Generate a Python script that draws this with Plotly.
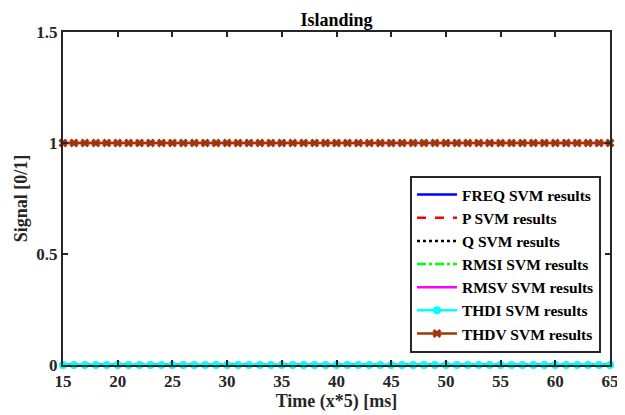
import plotly.graph_objects as go

time = list(range(15, 66))
n = len(time)
freq = [0] * n
p_vals = [0] * n
q_vals = [0] * n
rmsi = [0] * n
rmsv = [1] * n
thdi = [0] * n
thdv = [1] * n

x_ticks = [15, 20, 25, 30, 35, 40, 45, 50, 55, 60, 65]
y_ticks = [0, 0.5, 1, 1.5]
y_tick_text = ["0", "0.5", "1", "1.5"]

series = [
    ("FREQ SVM results", freq, dict(color="#0000ff", width=2.5, dash="solid"), None),
    ("P SVM results", p_vals, dict(color="#ff0000", width=2.5, dash="dash"), None),
    ("Q SVM results", q_vals, dict(color="#000000", width=2.5, dash="dot"), None),
    ("RMSI SVM results", rmsi, dict(color="#00ff00", width=2.5, dash="dashdot"), None),
    ("RMSV SVM results", rmsv, dict(color="#ff00ff", width=2.5, dash="solid"), None),
    ("THDI SVM results", thdi, dict(color="#00ffff", width=2.5, dash="solid"),
     dict(symbol="circle", size=8, color="#00ffff")),
    ("THDV SVM results", thdv, dict(color="#a0350a", width=2.5, dash="solid"),
     dict(symbol="x", size=8, color="#a0350a")),
]

fig = go.Figure()
for name, vals, line, marker in series:
    kw = dict(x=time, y=vals, name="<b>" + name + "</b>", line=line, cliponaxis=False)
    if marker:
        kw["mode"] = "lines+markers"
        kw["marker"] = marker
    else:
        kw["mode"] = "lines"
    fig.add_trace(go.Scatter(**kw))

FAM = "Liberation Serif"
W, H = 617, 407  # page body has an 8px margin
axis_common = dict(
    showline=True, linecolor="#262626", linewidth=2, mirror="ticks",
    ticks="inside", ticklen=5, tickwidth=2, tickcolor="#262626",
    showgrid=False, zeroline=False, automargin=False,
    tickfont=dict(family=FAM, size=17, color="#262626"),
)
fig.update_layout(
    width=W, height=H,
    margin=dict(l=55, r=15, t=24, b=50),
    paper_bgcolor="white", plot_bgcolor="white",
    font=dict(family=FAM, size=16, color="#262626"),
    title=dict(text="<b>Islanding</b>", x=0.5, xref="paper", xanchor="center",
               y=(H - 12) / H, yref="container", yanchor="middle", automargin=False,
               font=dict(family=FAM, size=18, color="#000000")),
    xaxis=dict(range=[15, 65], tickvals=x_ticks,
               ticktext=["<b>%d</b>" % v for v in x_ticks],
               title=dict(text="<b>Time (x*5) [ms]</b>", standoff=2,
                          font=dict(family=FAM, size=18, color="#262626")),
               **axis_common),
    yaxis=dict(range=[0, 1.5], tickvals=y_ticks,
               ticktext=["<b>%s</b>" % t for t in y_tick_text],
               title=dict(text="<b>Signal [0/1]</b>", standoff=4,
                          font=dict(family=FAM, size=18, color="#262626")),
               **axis_common),
    legend=dict(x=0.9835, y=0.036, xanchor="right", yanchor="bottom",
                bordercolor="#262626", borderwidth=2, bgcolor="white",
                font=dict(family=FAM, size=15.5, color="#000000"),
                tracegroupgap=0, itemwidth=40),
    showlegend=True,
)

fig.write_html("out.html")
